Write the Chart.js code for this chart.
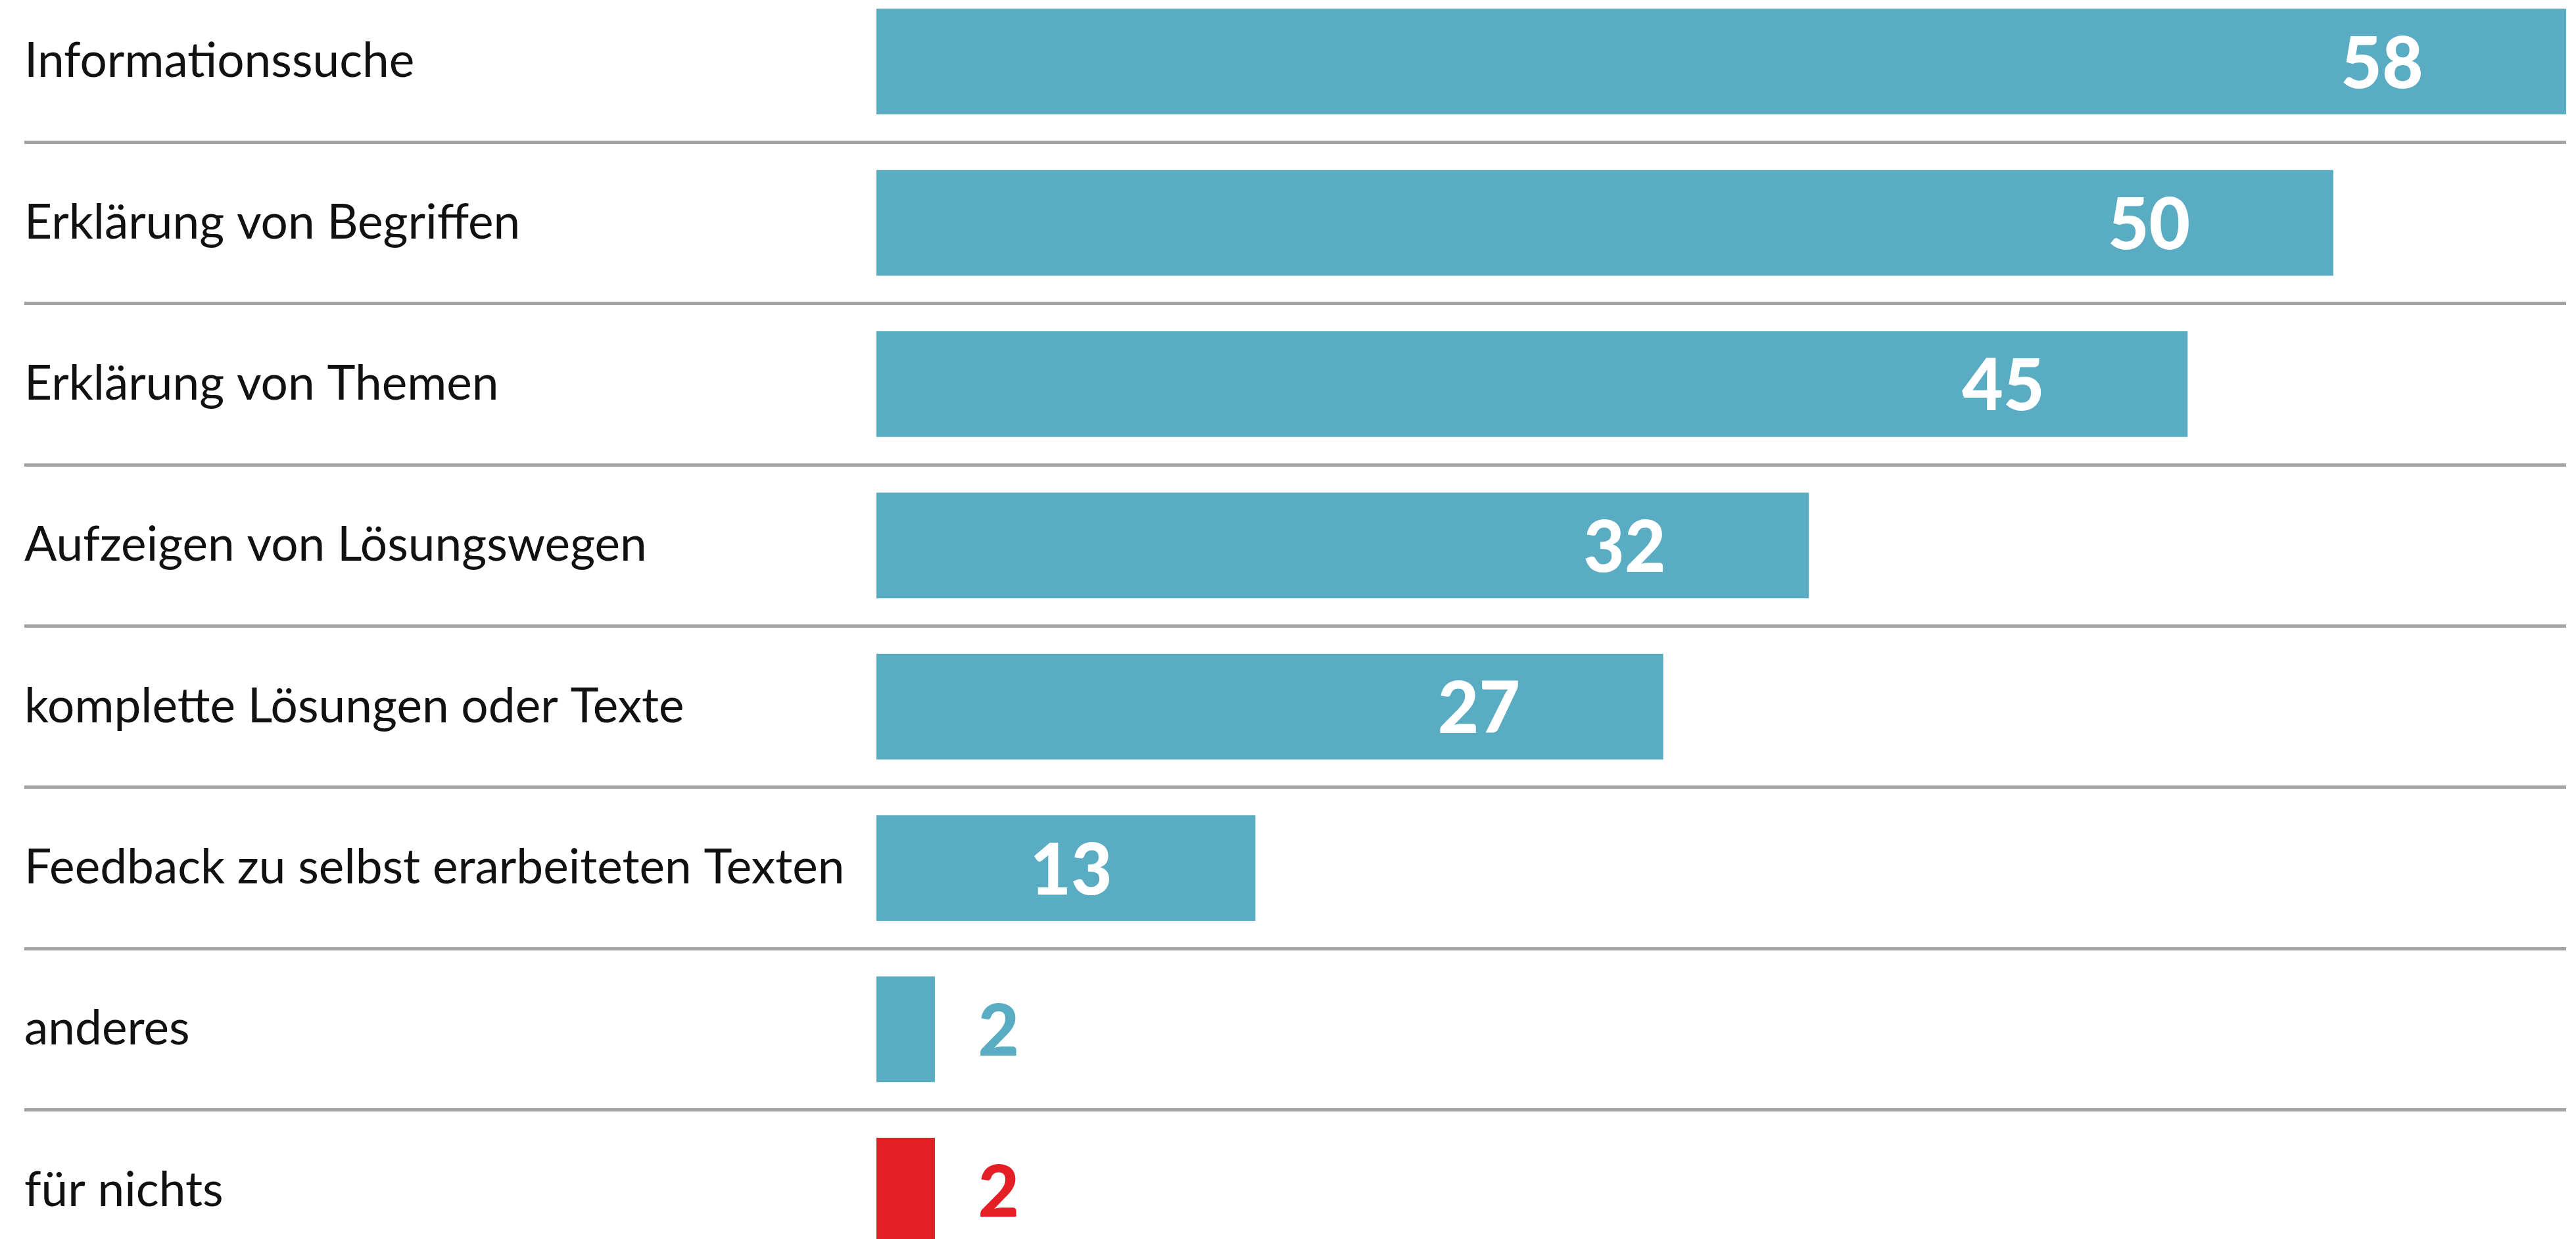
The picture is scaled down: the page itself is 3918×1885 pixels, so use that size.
<!DOCTYPE html>
<html>
<head>
<meta charset="utf-8">
<script src="https://cdn.jsdelivr.net/npm/chart.js@4.4.1/dist/chart.umd.min.js"></script>
<style>
  html, body { margin: 0; padding: 0; background: #fff; overflow: hidden; }
  #wrap { position: relative; width: 3918px; height: 1885px; overflow: hidden; }
  #usageChart { position: absolute; left: 0; top: -29px; }
</style>
</head>
<body>
<div id="wrap"><canvas id="usageChart" width="3918" height="1963"></canvas></div>
<script>
// Bar Chart for KI usage
var usageCanvas = document.getElementById("usageChart");

const usageLabels = [
  "Informationssuche",
  "Erklärung von Begriffen",
  "Erklärung von Themen",
  "Aufzeigen von Lösungswegen",
  "komplette Lösungen oder Texte",
  "Feedback zu selbst erarbeiteten Texten",
  "anderes",
  "für nichts",
];
const usageValues = [58, 50, 45, 32, 27, 13, 2, 2];
const barColors = [
  "#5aacc3",
  "#5aacc3",
  "#5aacc3",
  "#5aacc3",
  "#5aacc3",
  "#5aacc3",
  "#5aacc3",
  "#e31e25",
];

// numbers on the bars (white inside, coloured next to the small ones)
const valueLabels = {
  id: "valueLabels",
  afterDatasetsDraw(chart) {
    const ctx = chart.ctx;
    const meta = chart.getDatasetMeta(0);
    ctx.save();
    ctx.font = "900 108px Lato";
    ctx.textBaseline = "alphabetic";
    meta.data.forEach((bar, i) => {
      const value = usageValues[i];
      if (value >= 10) {
        ctx.fillStyle = "#ffffff";
        ctx.textAlign = "center";
        ctx.fillText(value, bar.x - 280, bar.y + 40);
      } else {
        ctx.fillStyle = barColors[i];
        ctx.textAlign = "left";
        ctx.fillText(value, bar.x + 66, bar.y + 40);
      }
    });
    ctx.restore();
  },
};

const usageData = {
  labels: usageLabels,
  datasets: [
    {
      data: usageValues,
      backgroundColor: barColors,
      barThickness: 160,
    },
  ],
};

const usageConfig = {
  type: "bar",
  data: usageData,
  options: {
    indexAxis: "y",
    responsive: false,
    animation: false,
    layout: {
      padding: { left: 37, right: 15, top: 0, bottom: 0 },
    },
    plugins: {
      legend: { display: false },
      tooltip: { enabled: false },
    },
    scales: {
      x: {
        display: false,
        min: 0,
        max: 58,
      },
      y: {
        afterFit: (scale) => {
          scale.width = 1296;
          scale.paddingTop = 0;
          scale.paddingBottom = 0;
        },
        border: { display: false },
        grid: {
          offset: true,
          color: "#a3a3a3",
          lineWidth: 5,
          tickLength: 1296,
        },
        ticks: {
          crossAlign: "far",
          padding: 0,
          color: "#111111",
          font: { family: "Lato", size: 73 },
        },
      },
    },
  },
  plugins: [valueLabels],
};

const usageChart = new Chart(usageCanvas, usageConfig);
</script>
</body>
</html>
